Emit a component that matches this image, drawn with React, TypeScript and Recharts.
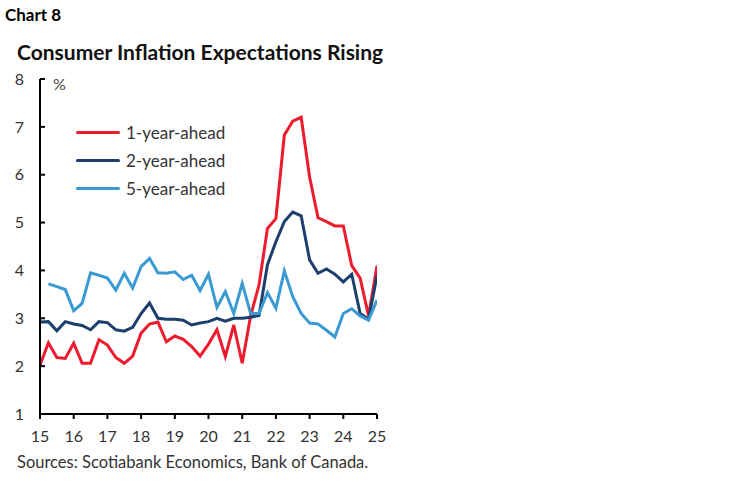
import React from "react";
import { LineChart, Line, XAxis, YAxis, Legend } from "recharts";

// quarterly survey, 2015Q1 .. 2025Q1
const startYear = 15;
const oneYearAhead = [
  2.02, 2.49, 2.18, 2.16,
  2.48, 2.06, 2.06, 2.55,
  2.44, 2.18, 2.06, 2.21,
  2.69, 2.88, 2.92, 2.51,
  2.63, 2.56, 2.41, 2.21,
  2.46, 2.76, 2.2, 2.86,
  2.06, 3.05, 3.7, 4.88,
  5.08, 6.83, 7.12, 7.2,
  5.95, 5.1, 5.02, 4.93,
  4.93, 4.1, 3.84, 3.05,
  4.1,
];
const twoYearAhead = [
  2.92, 2.93, 2.74, 2.93,
  2.88, 2.85, 2.76, 2.93,
  2.91, 2.76, 2.73, 2.81,
  3.1, 3.32, 3.0, 2.98,
  2.98, 2.96, 2.86, 2.9,
  2.93, 3.0, 2.94, 3.0,
  3.0, 3.02, 3.06, 4.12,
  4.6, 5.02, 5.22, 5.14,
  4.22, 3.94, 4.03, 3.92,
  3.76, 3.92, 3.1, 2.98,
  3.89,
];
const fiveYearAhead = [
  null, 3.72, 3.66, 3.6,
  3.16, 3.31, 3.95, 3.9,
  3.84, 3.59, 3.94, 3.63,
  4.08, 4.25, 3.95, 3.94,
  3.97, 3.81, 3.9, 3.58,
  3.92, 3.23, 3.56, 3.1,
  3.73, 3.1, 3.1, 3.54,
  3.21, 3.99, 3.45, 3.1,
  2.9, 2.88, 2.75, 2.61,
  3.1, 3.2, 3.05, 2.96,
  3.38,
];
const yearTicks = [15, 16, 17, 18, 19, 20, 21, 22, 23, 24, 25];
const valueTicks = [1, 2, 3, 4, 5, 6, 7, 8];

const series = [
  { key: "oneYear", name: "1-year-ahead", color: "#EC1C2E" },
  { key: "twoYear", name: "2-year-ahead", color: "#1D3F6E" },
  { key: "fiveYear", name: "5-year-ahead", color: "#3B9AD2" },
];

const data = oneYearAhead.map((v, i) => ({
  t: startYear + i / 4,
  oneYear: v,
  twoYear: twoYearAhead[i],
  fiveYear: fiveYearAhead[i],
}));

const FONT = "Lato, 'Noto Sans', sans-serif";

const renderLegend = () => (
  <div style={{ fontFamily: FONT }}>
    {series.map((s) => (
      <div key={s.key} style={{ display: "flex", alignItems: "center", height: 28 }}>
        <div style={{ width: 44, height: 3, background: s.color, borderRadius: 2, marginRight: 6 }} />
        <span style={{ fontSize: 17, color: "#333" }}>{s.name}</span>
      </div>
    ))}
  </div>
);

const App: React.FC = () => {
  return (
    <div style={{ position: "absolute", left: 0, top: 0, width: 749, height: 482, background: "#fff", fontFamily: FONT }}>
      <div style={{ position: "absolute", left: 5, top: 4, fontSize: 17, fontWeight: 700, color: "#000" }}>Chart 8</div>
      <div style={{ position: "absolute", left: 17, top: 39, fontSize: 21, fontWeight: 700, color: "#111" }}>
        Consumer Inflation Expectations Rising
      </div>
      <div style={{ position: "absolute", left: 53, top: 74, fontSize: 16, color: "#444" }}>%</div>
      <LineChart
        width={749}
        height={482}
        data={data}
        margin={{ top: 79, right: 372, bottom: 38, left: 1 }}
      >
        <XAxis
          dataKey="t"
          type="number"
          domain={[15, 25]}
          ticks={yearTicks}
          interval={0}
          allowDataOverflow
          height={30}
          tickSize={5}
          tickMargin={12}
          stroke="#000"
          strokeWidth={2}
          tick={{ fill: "#333", fontSize: 16, fontFamily: FONT }}
        />
        <YAxis
          type="number"
          domain={[1, 8]}
          ticks={valueTicks}
          interval={0}
          width={39}
          tickSize={-5}
          tickMargin={21}
          stroke="#000"
          strokeWidth={2}
          tick={{ fill: "#333", fontSize: 16, fontFamily: FONT }}
        />
        <Legend
          content={renderLegend}
          layout="vertical"
          verticalAlign="middle"
          align="center"
          wrapperStyle={{ position: "absolute", left: 76, top: 118, width: 200 }}
        />
        {series.map((s) => (
          <Line
            key={s.key}
            dataKey={s.key}
            name={s.name}
            stroke={s.color}
            strokeWidth={3}
            dot={false}
            connectNulls={false}
            isAnimationActive={false}
          />
        ))}
      </LineChart>
      <div style={{ position: "absolute", left: 17, top: 452, fontSize: 16.5, color: "#333" }}>
        Sources: Scotiabank Economics, Bank of Canada.
      </div>
    </div>
  );
};

export default App;
